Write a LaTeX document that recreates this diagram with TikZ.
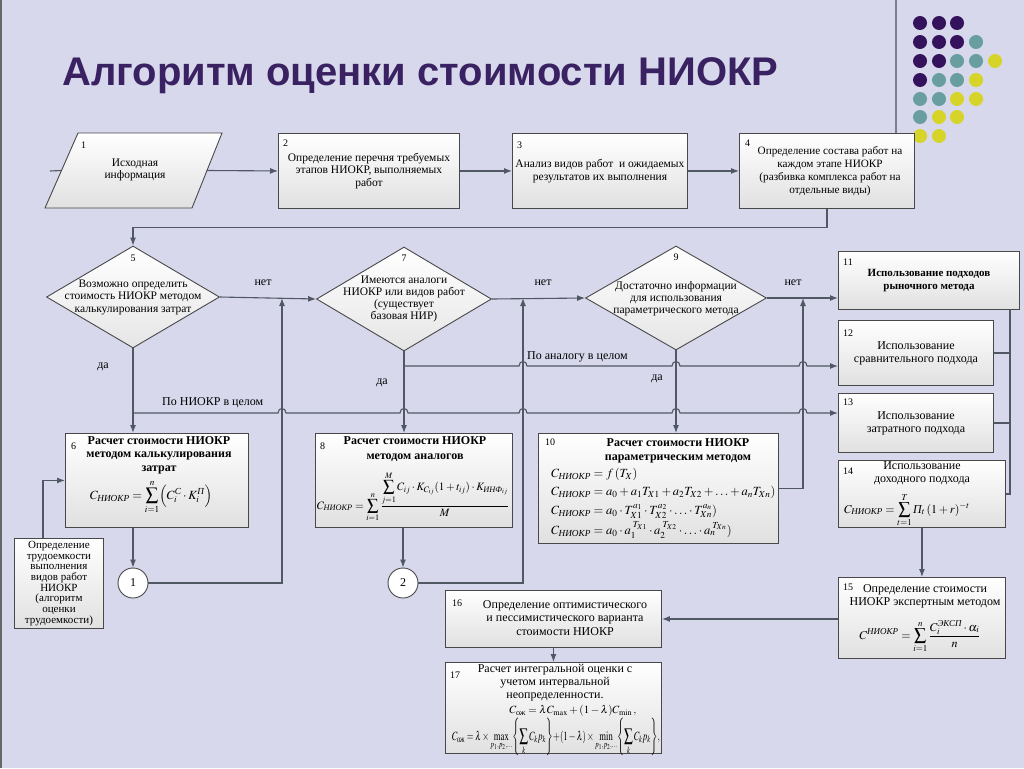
\documentclass[tikz,border=0pt]{standalone}
\usepackage{amsmath}
\usepackage{mathptmx}
\usepackage{fontspec}
\setmainfont{Liberation Serif}
\newfontfamily\titlefont{Liberation Sans}
\usetikzlibrary{shapes.geometric,arrows.meta}
\definecolor{bgc}{RGB}{215,216,236}
\definecolor{titlec}{RGB}{58,34,98}
\definecolor{linec}{RGB}{80,88,100}
\definecolor{borderc}{RGB}{72,72,72}
\definecolor{dotp}{RGB}{52,18,92}
\definecolor{dott}{RGB}{104,158,160}
\definecolor{doty}{RGB}{214,212,40}
\definecolor{framec}{RGB}{120,126,150}
\newcommand{\NK}{\text{\itshape НИОКР}}
\newcommand{\cyr}[1]{\text{\itshape #1}}
\tikzset{
  box/.style={rectangle, draw=borderc, line width=0.9pt, top color=white, bottom color=black!12, inner sep=0pt, anchor=north west, align=center, font=\fontsize{11.5}{12.8}\selectfont},
  dia/.style={diamond, draw=borderc, line width=0.9pt, top color=white, bottom color=black!10, inner sep=0pt},
  circ/.style={circle, draw=borderc, line width=0.9pt, fill=white, minimum size=30pt, inner sep=0pt, font=\fontsize{12}{13}\selectfont},
  txt/.style={inner sep=0pt, align=center, font=\fontsize{11.5}{12.5}\selectfont},
  btxt/.style={inner sep=0pt, align=center, font=\fontsize{12}{13.5}\selectfont\bfseries},
  num/.style={inner sep=0pt, anchor=west, font=\fontsize{10}{11}\selectfont},
  lab/.style={inner sep=0pt, font=\fontsize{12}{13}\selectfont},
  fml/.style={inner sep=0pt, font=\fontsize{13}{15}\selectfont},
  conn/.style={draw=linec, line width=1.1pt},
  arr/.style={conn, -{Latex[length=8pt,width=6pt]}},
}
\begin{document}
\begin{tikzpicture}[x=1pt,y=-1pt]
\fill[bgc] (0,0) rectangle (1024,768);
\useasboundingbox (0,0) rectangle (1024,768);
\draw[line width=2pt, black!60] (1,0) -- (1,768);
\draw[line width=1.3pt, framec] (896,0) -- (896,133);

% decorative dots
\foreach \x/\y/\c in {920/23/dotp,939/23/dotp,957/23/dotp,
  920/42/dotp,939/42/dotp,957/42/dotp,976/42/dott,
  920/61/dotp,939/61/dotp,957/61/dott,976/61/dott,995/61/doty,
  920/80/dotp,939/80/dott,957/80/dott,976/80/doty,
  920/99/dott,939/99/dott,957/99/doty,976/99/doty,
  920/117/dott,939/117/doty,957/117/doty,
  920/136/doty,939/136/doty}
  \fill[\c] (\x,\y) circle[radius=7pt];

% title
\node[anchor=base west, inner sep=0pt, text=titlec, font=\titlefont\bfseries\fontsize{40}{44}\selectfont] (title) at (62,85) {Алгоритм оценки стоимости НИОКР};

% box 1 (parallelogram)
\path[draw=borderc, line width=0.9pt, top color=white, bottom color=black!12] (45,208) -- (78,133) -- (222,133) -- (192,208) -- cycle;
\node[minimum width=145pt, minimum height=75pt, inner sep=0pt] (b1) at (134,170.5) {};
\node[txt] (t1) at (135,170) {Исходная\\информация};
\node[num] (n1) at (81,145) {1};

% row of boxes
\node[box, minimum width=181pt, minimum height=75pt] (b2) at (278,133) {Определение перечня требуемых\\этапов НИОКР, выполняемых\\работ};
\node[num] (n2) at (283,143) {2};
\node[box, minimum width=175pt, minimum height=75pt] (b3) at (512,133) {Анализ видов работ~~и ожидаемых\\результатов их выполнения};
\node[num] (n3) at (517,145) {3};
\node[box, minimum width=175pt, minimum height=75pt] (b4) at (739,133) {};
\node[txt, font=\fontsize{11.2}{12.8}\selectfont] (t4) at (830,171) {Определение состава работ на\\каждом этапе НИОКР\\(разбивка комплекса работ на\\отдельные виды)};
\node[num] (n4) at (745,143) {4};

% diamonds
\node[dia, minimum width=173pt, minimum height=102pt] (d5) at (133,297) {};
\node[txt] (t5) at (133,297) {Возможно определить\\стоимость НИОКР методом\\калькулирования затрат};
\node[num, anchor=center] (n5) at (133,258) {5};
\node[dia, minimum width=175pt, minimum height=104pt] (d7) at (404,299) {};
\node[txt, font=\fontsize{11.5}{12}\selectfont] (t7) at (404,299) {Имеются аналоги\\НИОКР или видов работ\\(существует\\базовая НИР)};
\node[num, anchor=center] (n7) at (404,258) {7};
\node[dia, minimum width=181pt, minimum height=104pt] (d9) at (676,298) {};
\node[txt, font=\fontsize{11.5}{12}\selectfont] (t9) at (676,299) {Достаточно информации\\для использования\\параметрического метода};
\node[num, anchor=center] (n9) at (676,257) {9};

% right column boxes
\node[box, minimum width=181pt, minimum height=58pt, font=\fontsize{11}{12.5}\selectfont\bfseries] (b11) at (838,251) {Использование подходов\\рыночного метода};
\node[num] (n11) at (843,262) {11};
\node[box, minimum width=155pt, minimum height=65pt, font=\fontsize{12}{13}\selectfont] (b12) at (838,320) {Использование\\сравнительного подхода};
\node[num] (n12) at (843,333) {12};
\node[box, minimum width=155pt, minimum height=59pt, font=\fontsize{12}{13}\selectfont] (b13) at (838,393) {Использование\\затратного подхода};
\node[num] (n13) at (843,402) {13};
\node[box, minimum width=167pt, minimum height=67pt] (b14) at (838,460) {};
\node[txt, font=\fontsize{12}{13}\selectfont] (t14) at (922,473) {Использование\\доходного подхода};
\node[num] (n14) at (843,471) {14};
\node[fml, font=\fontsize{12}{14}\selectfont] (f14) at (907,510) {$\displaystyle C_{\NK}=\sum_{t=1}^{T}\cyr{П}_t\,(1+r)^{-t}$};
\node[box, minimum width=167pt, minimum height=81pt] (b15) at (838,577) {};
\node[txt, font=\fontsize{12}{13}\selectfont] (t15) at (925,596) {Определение стоимости\\НИОКР экспертным методом};
\node[num] (n15) at (843,587) {15};
\node[fml, font=\fontsize{12}{14}\selectfont] (f15) at (920,637) {$\displaystyle C^{\NK}=\sum_{i=1}^{n}\frac{C_i^{\cyr{ЭКСП}}\cdot\alpha_i}{n}$};

% box 6
\node[box, minimum width=183pt, minimum height=94pt] (b6) at (65,433) {};
\node[btxt] (t6) at (159,455) {Расчет стоимости НИОКР\\методом калькулирования\\затрат};
\node[num] (n6) at (71,446) {6};
\node[fml, font=\fontsize{12.5}{14}\selectfont] (f6) at (151,497) {$\displaystyle C_{\NK}=\sum_{i=1}^{n}\Bigl(C_i^{\cyr{С}}\cdot K_i^{\cyr{П}}\Bigr)$};

% left box
\node[box, minimum width=89pt, minimum height=90pt, font=\fontsize{11}{10.7}\selectfont] (bL) at (14,538) {Определение\\трудоемкости\\выполнения\\видов работ\\НИОКР\\(алгоритм\\оценки\\трудоемкости)};

% box 8
\node[box, minimum width=197pt, minimum height=94pt] (b8) at (315,433) {};
\node[btxt, font=\fontsize{12}{14.5}\selectfont\bfseries] (t8) at (415,449) {Расчет стоимости НИОКР\\методом аналогов};
\node[num] (n8) at (320,446) {8};
\node[fml] (f8) at (413,497) {\resizebox{192pt}{!}{$\displaystyle C_{\NK}=\sum_{i=1}^{n}\frac{\displaystyle\sum_{j=1}^{M}C_{ij}\cdot K_{C_{ij}}(1+t_{ij})\cdot K_{\cyr{ИНФ}_{ij}}}{M}$}};

% box 10
\node[box, minimum width=240pt, minimum height=110pt] (b10) at (538,433) {};
\node[btxt, font=\fontsize{12}{13.5}\selectfont\bfseries] (t10) at (678,451) {Расчет стоимости НИОКР\\параметрическим методом};
\node[num] (n10) at (545,442) {10};
\node[fml, anchor=west, font=\fontsize{12.5}{15}\selectfont] (f10a) at (551,474) {$C_{\NK}=f\,(T_X)$};
\node[fml, anchor=west, font=\fontsize{12.5}{15}\selectfont] (f10b) at (551,492) {$C_{\NK}=a_0+a_1T_{X1}+a_2T_{X2}+\ldots+a_nT_{Xn})$};
\node[fml, anchor=west, font=\fontsize{12.5}{15}\selectfont] (f10c) at (551,511) {$C_{\NK}=a_0\cdot T_{X1}^{a_1}\cdot T_{X2}^{a_2}\cdot\ldots\cdot T_{Xn}^{a_n})$};
\node[fml, anchor=west, font=\fontsize{12.5}{15}\selectfont] (f10d) at (551,530) {$C_{\NK}=a_0\cdot a_1^{\;T_{X1}}\cdot a_2^{\;T_{X2}}\cdot\ldots\cdot a_n^{\;T_{Xn}})$};

% circles
\node[circ] (c1) at (133,583) {1};
\node[circ] (c2) at (403,583) {2};

% boxes 16, 17
\node[box, minimum width=216pt, minimum height=57pt] (b16) at (445,590) {};
\node[txt, font=\fontsize{12}{13.5}\selectfont] (t16) at (565,618) {Определение оптимистического\\и пессимистического варианта\\стоимости НИОКР};
\node[num] (n16) at (452,603) {16};
\node[box, minimum width=216pt, minimum height=91pt] (b17) at (445,662) {};
\node[txt, font=\fontsize{12}{13}\selectfont] (t17) at (555,683) {Расчет интегральной оценки с\\учетом интервальной\\неопределенности.};
\node[num] (n17) at (450,675) {17};
\node[fml, font=\fontsize{11}{13}\selectfont] (f17a) at (573,711) {$C_{\text{ож}}=\lambda C_{\max}+(1-\lambda)C_{\min}\,,$};
\node[fml] (f17b) at (556,737) {\resizebox{208pt}{22pt}{$\displaystyle C_{\text{ож}}=\lambda\times\max_{p_1,p_2,\ldots}\!\left\{\sum_{k}C_kp_k\right\}\!+\!(1-\lambda)\times\min_{p_1,p_2,\ldots}\!\left\{\sum_{k}C_kp_k\right\}\!,$}};

% labels
\node[lab] (no1) at (263,283) {нет};
\node[lab] (no2) at (543,283) {нет};
\node[lab] (no3) at (793,283) {нет};
\node[lab] (y1) at (103,367) {да};
\node[lab] (y2) at (382,383) {да};
\node[lab] (y3) at (657,379) {да};
\node[lab, anchor=west] (la) at (527,357) {По аналогу в целом};
\node[lab, anchor=west] (lb) at (162,403) {По НИОКР в целом};

% coordinates
\coordinate (s0) at (50,171);
\coordinate (u1) at (282,298);
\coordinate (u2) at (523,298);
\coordinate (u3) at (803,298);
\coordinate (h1) at (404,366);
\coordinate (h2) at (133,413);
\coordinate (k1) at (1010,309);

% connectors
\draw[conn] (s0) -- (b1.west);
\draw[arr] (b1.east) -- (b2.west);
\draw[arr] (b2.east) -- (b3.west);
\draw[arr] (b3.east) -- (b4.west);
\draw[arr] (b4.south) -- ++(0,19) -| (d5.north);
\draw[arr] (d5.east) -- (d7.west);
\draw[arr] (d7.east) -- (d9.west);
\draw[arr] (d9.east) -- (d9.east -| b11.west);
\draw[arr] (d5.south) -- (d5.south |- b6.north);
\draw[arr] (d7.south) -- (d7.south |- b8.north);
\draw[arr] (d9.south) -- (d9.south |- b10.north);
\draw[arr] (c1 |- b6.south) -- (c1.north);
\draw[arr] (c2 |- b8.south) -- (c2.north);
\draw[arr] (c1.east) -| (u1);
\draw[arr] (c2.east) -| (u2);
\draw[arr] (b10.east) -| (u3);
\draw[arr] ([xshift=29pt]bL.north west) |- (b6.west);
\draw[conn] (k1) |- (b14.east);
\draw[conn] (b12.east) -- (b12.east -| k1);
\draw[conn] (b13.east) -- (b13.east -| k1);
\draw[arr] (b14.south) -- (b15.north);
\draw[arr] (b15.west |- b16.east) -- (b16.east);
\draw[arr] (b16.south) -- (b17.north);

% lines with hops
\draw[arr] (h1) -- (519,366) .. controls (519,360) and (527,360) .. (527,366)
  -- (672,366) .. controls (672,360) and (680,360) .. (680,366)
  -- (799,366) .. controls (799,360) and (807,360) .. (807,366)
  -- (h1 -| b12.west);
\draw[arr] (h2) -- (278,413) .. controls (278,407) and (286,407) .. (286,413)
  -- (400,413) .. controls (400,407) and (408,407) .. (408,413)
  -- (519,413) .. controls (519,407) and (527,407) .. (527,413)
  -- (672,413) .. controls (672,407) and (680,407) .. (680,413)
  -- (799,413) .. controls (799,407) and (807,407) .. (807,413)
  -- (h2 -| b13.west);
\end{tikzpicture}
\end{document}
